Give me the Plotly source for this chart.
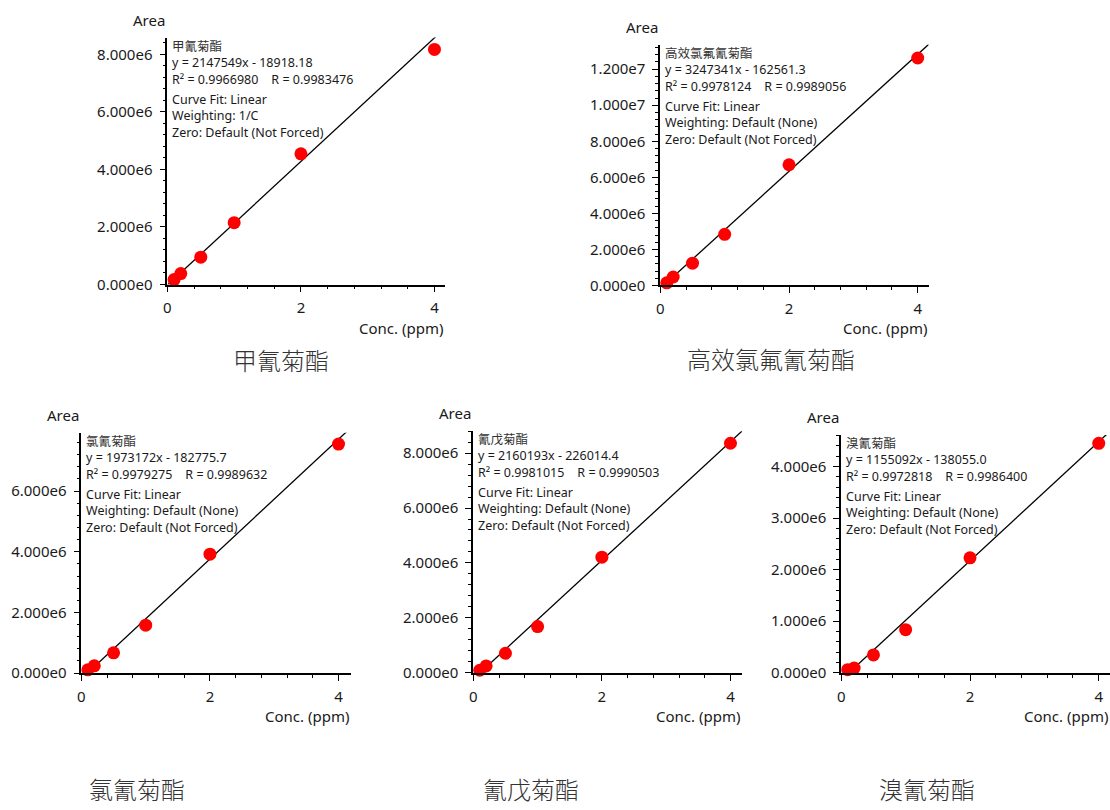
import plotly.graph_objects as go

W, H = 1110, 810

# Calibration standards (ppm) shared by every compound
conc = [0.1, 0.2, 0.5, 1, 2, 4]

names = ["甲氰菊酯", "高效氯氟氰菊酯", "氯氰菊酯", "氰戊菊酯", "溴氰菊酯"]

area_1 = [0.17e6, 0.38e6, 0.95e6, 2.15e6, 4.54e6, 8.17e6]
area_2 = [0.15e6, 0.47e6, 1.24e6, 2.84e6, 6.70e6, 12.62e6]
area_3 = [0.11e6, 0.24e6, 0.67e6, 1.58e6, 3.92e6, 7.55e6]
area_4 = [0.09e6, 0.25e6, 0.71e6, 1.68e6, 4.21e6, 8.36e6]
area_5 = [0.06e6, 0.09e6, 0.345e6, 0.835e6, 2.23e6, 4.45e6]
areas = [area_1, area_2, area_3, area_4, area_5]

# Regression results
slopes = [2147549, 3247341, 1973172, 2160193, 1155092]
intercepts = [-18918.18, -162561.3, -182775.7, -226014.4, -138055.0]
slope_txt = ["2147549", "3247341", "1973172", "2160193", "1155092"]
intercept_txt = ["18918.18", "162561.3", "182775.7", "226014.4", "138055.0"]
r2_txt = ["0.9966980", "0.9978124", "0.9979275", "0.9981015", "0.9972818"]
r_txt = ["0.9983476", "0.9989056", "0.9989632", "0.9990503", "0.9986400"]
weighting = ["1/C", "Default (None)", "Default (None)", "Default (None)", "Default (None)"]

# Y tick values / labels per panel
y_ticks = [
    [0, 2e6, 4e6, 6e6, 8e6],
    [0, 2e6, 4e6, 6e6, 8e6, 1e7, 1.2e7],
    [0, 2e6, 4e6, 6e6],
    [0, 2e6, 4e6, 6e6, 8e6],
    [0, 1e6, 2e6, 3e6, 4e6],
]
y_labels = [
    ["0.000e0", "2.000e6", "4.000e6", "6.000e6", "8.000e6"],
    ["0.000e0", "2.000e6", "4.000e6", "6.000e6", "8.000e6", "1.000e7", "1.200e7"],
    ["0.000e0", "2.000e6", "4.000e6", "6.000e6"],
    ["0.000e0", "2.000e6", "4.000e6", "6.000e6", "8.000e6"],
    ["0.000e0", "1.000e6", "2.000e6", "3.000e6", "4.000e6"],
]
y_minor = [4e5, 4e5, 4e5, 4e5, 2e5]
y_max = [8.58e6, 13.37e6, 7.92e6, 8.80e6, 4.61e6]
x_max = [4.164, 4.17, 4.19, 4.18, 4.175]

# Panel plot areas in pixels: (left, right, top, bottom)
boxes = [
    (164, 443, 38, 287.7),
    (658.7, 928, 45, 288.7),
    (77.7, 348, 437.7, 680.7),
    (471, 740.7, 436, 680.3),
    (840.3, 1110, 440, 680.3),
]
# Panel caption centres in pixels
caption_pos = [(278.3, 364), (770, 363), (133.3, 797), (529.3, 797), (926.3, 797)]

FONT = "Noto Sans, Noto Sans CJK SC, sans-serif"
CJK = "Noto Sans CJK SC, Noto Sans, sans-serif"
INK = "#1a1a1a"
NOTE = 12.5

fig = go.Figure()
layout = dict(
    width=W, height=H,
    margin=dict(l=0, r=0, t=0, b=0),
    paper_bgcolor="white", plot_bgcolor="white",
    showlegend=False,
    font=dict(family=FONT, color=INK),
)
annotations = []

for i in range(5):
    k = "" if i == 0 else str(i + 1)
    xa, ya = "x" + k, "y" + k
    left, right, top, bottom = boxes[i]

    # fitted calibration line, clipped by the axes
    xs = [0, x_max[i]]
    ys = [slopes[i] * v + intercepts[i] for v in xs]
    fig.add_trace(go.Scatter(x=xs, y=ys, mode="lines",
                             line=dict(color="black", width=1.3),
                             xaxis=xa, yaxis=ya, hoverinfo="skip"))
    fig.add_trace(go.Scatter(x=conc, y=areas[i], mode="markers",
                             marker=dict(color="#ff0000", size=13),
                             cliponaxis=False, xaxis=xa, yaxis=ya))

    layout["xaxis" + k] = dict(
        domain=[left / W, min(right / W, 1.0)], anchor=ya,
        range=[0, x_max[i]], tickmode="linear", tick0=0, dtick=2,
        ticks="outside", ticklen=6, tickwidth=1.3, tickcolor="black",
        showline=True, linecolor="black", linewidth=1.8,
        showgrid=False, zeroline=False,
        tickfont=dict(size=15, color=INK), ticklabelstandoff=3,
        minor=dict(tickmode="linear", tick0=0, dtick=0.4, ticks="outside",
                   ticklen=3, tickwidth=1.3, tickcolor="black", showgrid=False),
    )
    layout["yaxis" + k] = dict(
        domain=[1 - bottom / H, 1 - top / H], anchor=xa,
        range=[0, y_max[i]], tickmode="array",
        tickvals=y_ticks[i], ticktext=y_labels[i],
        ticks="outside", ticklen=6, tickwidth=1.3, tickcolor="black",
        showline=True, linecolor="black", linewidth=1.8,
        showgrid=False, zeroline=False,
        tickfont=dict(size=15, color=INK), ticklabelstandoff=4,
        minor=dict(tickmode="linear", tick0=0, dtick=y_minor[i], ticks="outside",
                   ticklen=3, tickwidth=1.3, tickcolor="black", showgrid=False),
    )

    # axis titles
    annotations.append(dict(text="Area", xref=xa + " domain", yref=ya + " domain",
                            x=0, y=1, xanchor="right", yanchor="middle",
                            yshift=18, xshift=0, showarrow=False,
                            font=dict(size=15, color=INK)))
    annotations.append(dict(text="Conc. (ppm)", xref=xa + " domain", yref=ya + " domain",
                            x=1, y=0, xanchor="right", yanchor="middle",
                            yshift=-43, showarrow=False,
                            font=dict(size=15, color=INK)))

    # regression summary: equation block and fit-settings block
    eq_block = "<br>".join([
        f"<span style='color:#333333'>{names[i]}</span>",
        f"y = {slope_txt[i]}x - {intercept_txt[i]}",
        f"R² = {r2_txt[i]}    R = {r_txt[i]}",
    ])
    fit_block = "<br>".join([
        "Curve Fit: Linear",
        f"Weighting: {weighting[i]}",
        "Zero: Default (Not Forced)",
    ])
    for txt, shift in [(eq_block, 2), (fit_block, -51)]:
        annotations.append(dict(text=txt, xref=xa + " domain", yref=ya + " domain",
                                x=0, y=1, xanchor="left", yanchor="top", align="left",
                                xshift=3, yshift=shift, showarrow=False,
                                font=dict(size=NOTE, family=FONT, color=INK)))

    # panel caption
    cx, cy = caption_pos[i]
    annotations.append(dict(text=names[i], xref="paper", yref="paper",
                            x=cx / W, y=1 - cy / H, xanchor="center", yanchor="middle",
                            showarrow=False,
                            font=dict(size=24, family=CJK, color="#333333", weight=300)))

layout["annotations"] = annotations
fig.update_layout(**layout)
fig.write_html("out.html")
